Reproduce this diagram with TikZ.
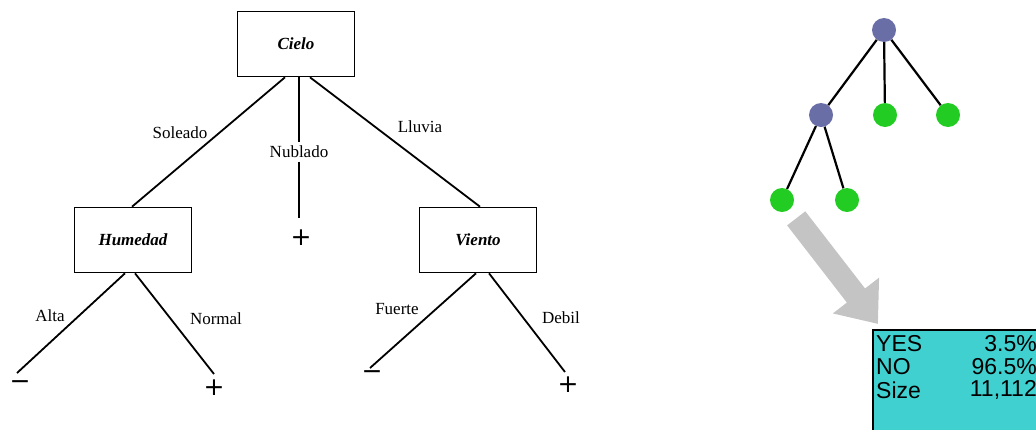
\documentclass[tikz,border=0pt]{standalone}
\usepackage{fontspec}
\setmainfont{Liberation Serif}
\newfontfamily\tablafont{Liberation Sans}
\newfontfamily\signofont{DejaVu Sans}
\usetikzlibrary{arrows.meta}
\definecolor{nodoazul}{HTML}{6A6EA6}
\definecolor{hojaverde}{HTML}{22CC22}
\definecolor{celeste}{HTML}{40D0D0}
\definecolor{flechagris}{HTML}{C4C4C4}

\begin{document}
\begin{tikzpicture}[x=1pt,y=1pt,yscale=-1,
  attr/.style={draw,line width=1.6pt,minimum width=117pt,minimum height=65pt,font=\fontsize{17}{20}\selectfont\bfseries\itshape},
  rama/.style={font=\fontsize{17}{20}\selectfont},
  clase/.style={font=\fontsize{25}{28}\selectfont\signofont,inner sep=0pt},
  arista/.style={line width=1.8pt},
  interno/.style={circle,fill=nodoazul,minimum size=24pt,inner sep=0pt},
  hoja/.style={circle,fill=hojaverde,minimum size=24pt,inner sep=0pt},
  celda/.style={font=\fontsize{23}{25}\selectfont\tablafont,inner sep=0pt}]

\useasboundingbox (0,0) rectangle (1036,429);
\clip (0,0) rectangle (1036,429);

% arbol de decision
\node [attr] (cielo) at (296,44) {Cielo};
\node [attr] (humedad) at (133,240) {Humedad};
\node [attr] (viento) at (478,240) {Viento};

\node [rama] (soleado) at (180,133) {Soleado};
\node [rama] (nublado) at (299,152) {Nublado};
\node [rama] (lluvia) at (420,127) {Lluvia};
\node [rama] (alta) at (50,316) {Alta};
\node [rama] (normal) at (216,319) {Normal};
\node [rama] (fuerte) at (397,309) {Fuerte};
\node [rama] (debil) at (561,318) {Debil};

\node [clase] (nubMas) at (301,238) {+};
\node [clase] (humMenos) at (20,385) {−};
\node [clase] (humMas) at (214,388) {+};
\node [clase] (vieMenos) at (372,375) {−};
\node [clase] (vieMas) at (568,385) {+};

\coordinate (nubFin) at (299,218);
\coordinate (altaFin) at (17,373);
\coordinate (normalFin) at (214,374);
\coordinate (fuerteFin) at (370,368);
\coordinate (debilFin) at (565,372);

\draw [arista] ([xshift=-11pt]cielo.south) -- ([xshift=-1pt]humedad.north);
\draw [arista] ([xshift=3pt]cielo.south) -- (nublado);
\draw [arista] (nublado) -- (nubFin);
\draw [arista] ([xshift=14pt]cielo.south) -- ([xshift=2pt]viento.north);

\draw [arista] ([xshift=-8pt]humedad.south) -- (altaFin);
\draw [arista] ([xshift=2pt]humedad.south) -- (normalFin);
\draw [arista] ([xshift=-2pt]viento.south) -- (fuerteFin);
\draw [arista] ([xshift=11pt]viento.south) -- (debilFin);

% arbol pequeno
\node [interno] (raiz) at (884,30) {};
\node [interno] (medio) at (821,115) {};
\node [hoja] (hojaB) at (885,115) {};
\node [hoja] (hojaC) at (948,115) {};
\node [hoja] (hojaD) at (782,200) {};
\node [hoja] (hojaE) at (847,200) {};

\draw [arista,line width=2.2pt] (raiz) -- (medio);
\draw [arista,line width=2.2pt] (raiz) -- (hojaB);
\draw [arista,line width=2.2pt] (raiz) -- (hojaC);
\draw [arista,line width=2.2pt] (medio) -- (hojaD);
\draw [arista,line width=2.2pt] (medio) -- (hojaE);

% tabla de la hoja
\node [draw,fill=celeste,line width=1.6pt,anchor=north west,minimum width=200pt,minimum height=120pt] (tabla) at (872,329) {};
\node [celda,anchor=west] (si) at (876,344) {YES};
\node [celda,anchor=west] (no) at (876,367) {NO};
\node [celda,anchor=west] (tam) at (876,390) {Size};
\node [celda,anchor=east] (siVal) at (1037,344) {3.5\%};
\node [celda,anchor=east] (noVal) at (1037,367) {96.5\%};
\node [celda,anchor=east] (tamVal) at (1037,390) {11,112};

\coordinate (flechaFin) at (878,324);
\draw [flechagris,line width=23pt,shorten <=11pt,-{Triangle[length=36pt,width=56pt]}] (hojaD) -- (flechaFin);

\end{tikzpicture}
\end{document}
